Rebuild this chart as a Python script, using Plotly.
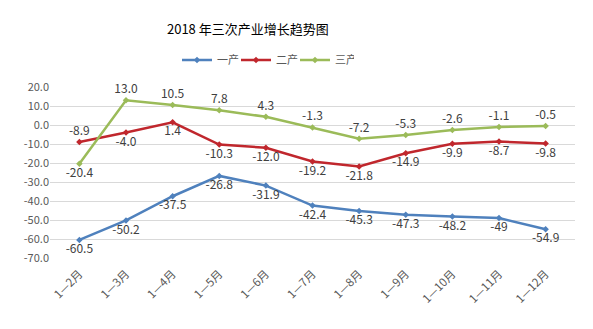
import plotly.graph_objects as go

categories = ["1—2月", "1—3月", "1—4月", "1—5月", "1—6月", "1—7月", "1—8月", "1—9月", "1—10月", "1—11月", "1—12月"]
primary = [-60.5, -50.2, -37.5, -26.8, -31.9, -42.4, -45.3, -47.3, -48.2, -49, -54.9]
secondary = [-8.9, -4.0, 1.4, -10.3, -12.0, -19.2, -21.8, -14.9, -9.9, -8.7, -9.8]
tertiary = [-20.4, 13.0, 10.5, 7.8, 4.3, -1.3, -7.2, -5.3, -2.6, -1.1, -0.5]
y_ticks = [20, 10, 0, -10, -20, -30, -40, -50, -60, -70]


def fmt(v):
    return str(v) if isinstance(v, int) else f"{v:.1f}"


series = [
    ("一产", primary, "#4F81BD", ["bottom center"] * 11),
    ("二产", secondary, "#C0272D", ["top center"] + ["bottom center"] * 10),
    ("三产", tertiary, "#9BBB59", ["bottom center"] + ["top center"] * 10),
]

fig = go.Figure()
for name, vals, color, pos in series:
    fig.add_trace(go.Scatter(
        x=categories, y=vals, name=name,
        mode="lines+markers+text",
        line=dict(color=color, width=2.5),
        marker=dict(symbol="diamond", size=5, color=color),
        text=[fmt(v) for v in vals],
        textposition=pos,
        textfont=dict(size=12, color="#404040", family="Noto Sans CJK SC"),
        cliponaxis=False,
    ))

fig.update_layout(
    width=593, height=329,
    margin=dict(l=50, r=18, t=87, b=71, autoexpand=False),
    paper_bgcolor="white", plot_bgcolor="white",
    font=dict(family="Noto Sans CJK SC", color="#595959"),
    title=dict(text="2018 年三次产业增长趋势图", xref="container", yref="container",
               x=0.418, y=1 - 29 / 329, xanchor="center", yanchor="middle",
               font=dict(size=13, color="#000000", family="Noto Sans CJK SC")),
    legend=dict(orientation="h", xref="container", yref="container",
                x=177 / 593, y=1 - 60 / 329, xanchor="left", yanchor="middle",
                font=dict(size=11, color="#595959"), itemwidth=30,
                entrywidth=14, entrywidthmode="pixels"),
    showlegend=True,
)
fig.update_xaxes(type="category", tickangle=-45, showgrid=False, showline=False,
                 ticks="", ticklabelstandoff=6, tickfont=dict(size=11.5, color="#595959"))
fig.update_yaxes(range=[-70, 20], tickvals=y_ticks, ticktext=[f"{v:.1f}" for v in y_ticks],
                 showgrid=True, gridcolor="#D9D9D9", gridwidth=1, zeroline=False,
                 showline=False, ticks="", tickfont=dict(size=11, color="#595959"))

fig.write_html("out.html")
